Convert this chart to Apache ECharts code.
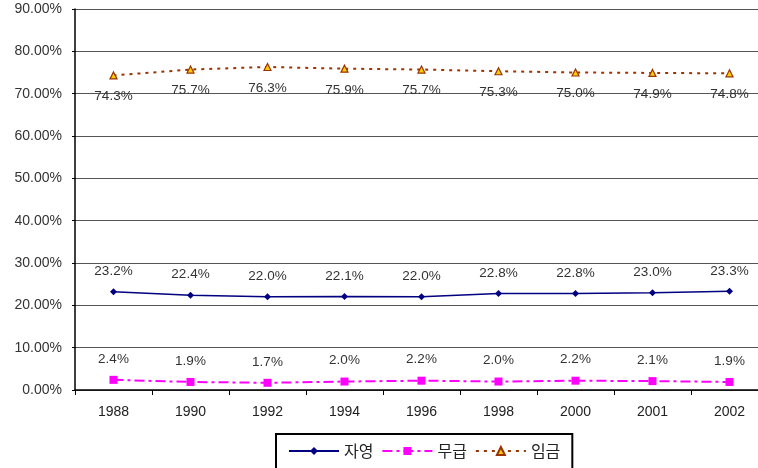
<!DOCTYPE html>
<html><head><meta charset="utf-8">
<script src="https://cdn.jsdelivr.net/npm/echarts@6/dist/echarts.min.js"></script>
<style>html,body{margin:0;padding:0;background:#fff}#c{width:758px;height:468px}</style>
</head><body><div id="c"></div>
<script>
const categories = ['1988','1990','1992','1994','1996','1998','2000','2001','2002'];
const selfEmployed = [23.2,22.4,22.0,22.1,22.0,22.8,22.8,23.0,23.3];
const unpaid = [2.4,1.9,1.7,2.0,2.2,2.0,2.2,2.1,1.9];
const wage = [74.3,75.7,76.3,75.9,75.7,75.3,75.0,74.9,74.8];
const seriesNames = ['자영','무급','임금'];

const chart = echarts.init(document.getElementById('c'));
const lbl = (pos) => ({show:true, position:pos, distance:10, color:'#333', fontSize:13.5, fontFamily:'Liberation Sans, Arial, sans-serif', formatter:p=>p.value.toFixed(1)+'%'});
chart.setOption({
  animation:false,
  grid:{left:75, width:693, top:9, height:381, containLabel:false, outerBoundsMode:'none'},
  xAxis:{type:'category', data:categories, boundaryGap:true,
    axisLine:{lineStyle:{color:'#000', width:1.5}},
    axisTick:{show:true, length:5, lineStyle:{color:'#000'}},
    axisLabel:{color:'#222', fontSize:14, fontFamily:'Liberation Sans, Arial, sans-serif', margin:15}},
  yAxis:{type:'value', min:0, max:90, interval:10,
    axisLine:{show:true, lineStyle:{color:'#000', width:1.5}},
    axisTick:{show:true, length:3, lineStyle:{color:'#000'}},
    splitLine:{lineStyle:{color:'#555', width:1}},
    axisLabel:{color:'#333', fontSize:14, fontFamily:'Liberation Sans, Arial, sans-serif', margin:13, formatter:v=>v.toFixed(2)+'%'}},
  legend:{top:434, left:276, itemGap:8, itemWidth:50, itemHeight:10,
    borderColor:'#000', borderWidth:2, padding:[9,12,20,12],
    textStyle:{fontSize:16, color:'#222', fontFamily:'Noto Sans CJK KR, sans-serif'},
    data:seriesNames},
  series:[
    {name:seriesNames[0], type:'line', data:selfEmployed, symbol:'diamond', symbolSize:7,
     itemStyle:{color:'#000080'}, lineStyle:{color:'#000080', width:1.5}, label:lbl('top')},
    {name:seriesNames[1], type:'line', data:unpaid, symbol:'rect', symbolSize:8,
     itemStyle:{color:'#FF00FF'}, lineStyle:{color:'#FF00FF', width:2, type:[10,4,3,4]}, label:lbl('top')},
    {name:seriesNames[2], type:'line', data:wage, symbol:'triangle', symbolSize:7,
     itemStyle:{color:'#FFCC00', borderColor:'#993300', borderWidth:1.2}, lineStyle:{color:'#993300', width:2, type:[3,5]}, label:lbl('bottom')}
  ]
});
</script></body></html>
